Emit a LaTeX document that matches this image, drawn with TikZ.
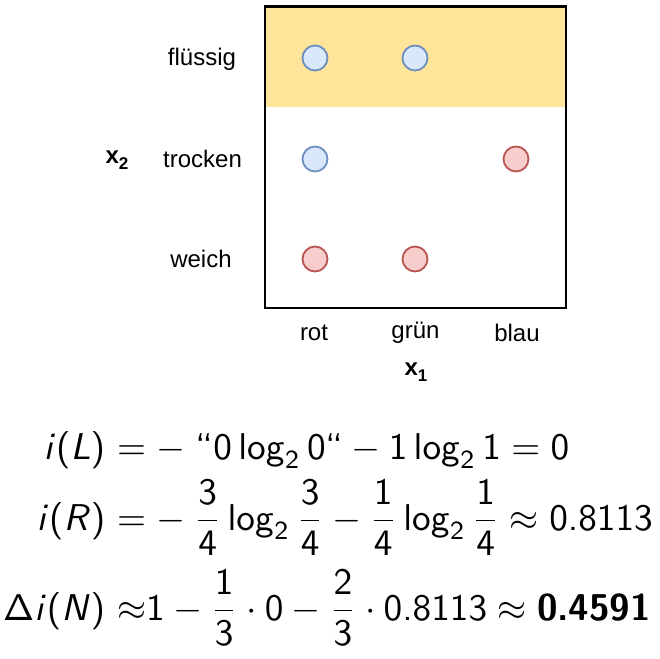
\documentclass[tikz,border=0pt]{standalone}
\usepackage{amsmath}
\usepackage[no-math]{fontspec}
\newfontfamily\labfont{Liberation Sans}
\DeclareMathVersion{sfm}
\SetSymbolFont{operators}{sfm}{OT1}{cmss}{m}{n}
\SetSymbolFont{letters}{sfm}{OT1}{cmss}{m}{sl}
\SetSymbolFont{symbols}{sfm}{OMS}{cmsy}{m}{n}
\mathcode`\.="002E
\definecolor{liquid}{HTML}{FFE599}
\definecolor{bluefill}{HTML}{DAE8FC}
\definecolor{bluedraw}{HTML}{6C8EBF}
\definecolor{redfill}{HTML}{F8CECC}
\definecolor{reddraw}{HTML}{B85450}
\tikzset{
  lbl/.style={inner sep=0pt, font=\labfont\fontsize{24}{29}\selectfont},
  axislbl/.style={inner sep=0pt, font=\labfont\bfseries\fontsize{24}{29}\selectfont},
  bluedot/.style={circle, minimum size=25pt, inner sep=0pt, line width=1.8pt, draw=bluedraw, fill=bluefill},
  reddot/.style={circle, minimum size=25pt, inner sep=0pt, line width=1.8pt, draw=reddraw, fill=redfill},
  eq/.style={inner sep=0pt, scale=3.73, transform shape, font=\fontsize{10}{12}\selectfont\sffamily\mathversion{sfm}},
}
\begin{document}
\begin{tikzpicture}[x=1pt,y=1pt]
\useasboundingbox (0,0) rectangle (660,-658);
% grid box
\fill[liquid] (265,-6.5) rectangle (566,-106.5);
\draw[line width=2.5pt] (265,-6.5) rectangle (566,-308);
% dots
\node[bluedot] (d11) at (315,-58) {};
\node[bluedot] (d21) at (415,-58) {};
\node[bluedot] (d12) at (315,-159) {};
\node[reddot]  (d32) at (516,-159) {};
\node[reddot]  (d13) at (315,-259) {};
\node[reddot]  (d23) at (415,-259) {};
% row labels
\node[lbl] (fl) at (202,-59) {flüssig};
\node[lbl] (tr) at (202.5,-159) {trocken};
\node[lbl] (we) at (201,-259) {weich};
\node[axislbl] (x2) at (117,-160) {x\raisebox{-5.5pt}{\fontsize{17}{17}\selectfont 2}};
% column labels
\node[lbl] (rot) at (314,-333) {rot};
\node[lbl] (gr) at (415.5,-333) {grün};
\node[lbl] (bl) at (517,-333) {blau};
\node[axislbl] (x1) at (416,-372) {x\raisebox{-5.5pt}{\fontsize{17}{17}\selectfont 1}};
% equations
\coordinate (r1) at (106,-459.5);
\coordinate (r2) at (106,-530);
\coordinate (r3) at (106,-620);
\node[eq, anchor=base east] (l1) at (r1) {$i(L)$};
\node[eq, anchor=base west] (e1) at (r1) {${}= -\;\text{“}0\log_2 0\text{“} - 1\log_2 1 = 0$};
\node[eq, anchor=base east] (l2) at (r2) {$i(R)$};
\node[eq, anchor=base west] (e2) at (r2) {$\displaystyle{}= -\:\frac{3}{4}\log_2\frac{3}{4} - \frac{1}{4}\log_2\frac{1}{4} \approx 0.8113$};
\node[eq, anchor=base east] (l3) at (r3) {$\Delta i(N)$};
\node[eq, anchor=base west] (e3) at (r3) {$\displaystyle{}\approx\mskip-\thickmuskip 1 - \frac{1}{3}\cdot 0 - \frac{2}{3}\cdot 0.8113 \approx \text{\bfseries 0.4591}$};
\end{tikzpicture}
\end{document}
